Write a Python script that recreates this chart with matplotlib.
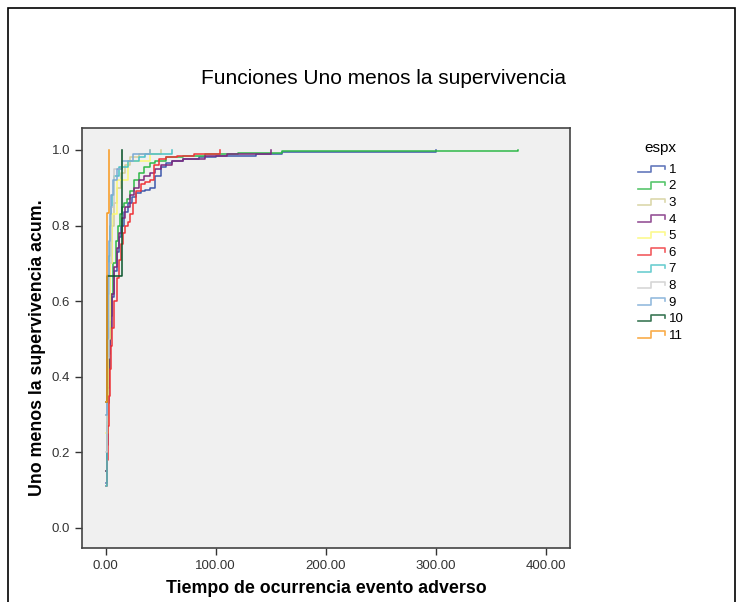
import numpy as np
import matplotlib
matplotlib.use('Agg')
import matplotlib.pyplot as plt
from matplotlib.lines import Line2D
from matplotlib.legend_handler import HandlerBase
from matplotlib.patches import Rectangle

plt.rcParams['font.family'] = ['Liberation Sans', 'DejaVu Sans']

# Datos: tiempo y 1 - supervivencia acumulada por grupo espx
grupos = ['1', '2', '3', '4', '5', '6', '7', '8', '9', '10', '11']
colores = ['#3E58AC', '#2EB848', '#D3CE97', '#7C287D', '#FBF873', '#EF3338',
           '#48C2C5', '#CCCCCC', '#7AAAD5', '#0A562C', '#F8981D']

t1 = [0, 1, 2, 3, 4, 5, 6, 8, 10, 12, 14, 17, 20, 24, 28, 32, 36, 40, 45, 50, 55, 60, 70, 85, 100, 137, 160, 300]
v1 = [0.12, 0.22, 0.33, 0.42, 0.50, 0.56, 0.61, 0.68, 0.73, 0.77, 0.80, 0.835, 0.86, 0.875, 0.885, 0.89, 0.895, 0.90, 0.93, 0.955, 0.965, 0.97, 0.975, 0.98, 0.985, 0.99, 0.995, 1.0]
t2 = [0, 1, 2, 3, 4, 5, 7, 9, 11, 13, 15, 17, 19, 22, 26, 30, 35, 40, 45, 55, 70, 90, 120, 160, 375]
v2 = [0.15, 0.28, 0.40, 0.49, 0.56, 0.62, 0.70, 0.76, 0.80, 0.83, 0.85, 0.86, 0.87, 0.89, 0.92, 0.94, 0.955, 0.965, 0.97, 0.98, 0.985, 0.99, 0.993, 0.996, 1.0]
t3 = [0, 2, 4, 6, 8, 10, 14, 18, 22, 30, 50]
v3 = [0.30, 0.55, 0.70, 0.80, 0.86, 0.90, 0.94, 0.96, 0.98, 0.99, 1.0]
t4 = [0, 1, 2, 3, 4, 6, 8, 10, 12, 15, 18, 22, 26, 30, 35, 40, 45, 50, 60, 70, 90, 110, 150]
v4 = [0.15, 0.27, 0.37, 0.46, 0.53, 0.62, 0.69, 0.74, 0.78, 0.82, 0.85, 0.88, 0.90, 0.92, 0.93, 0.94, 0.95, 0.96, 0.97, 0.975, 0.985, 0.99, 1.0]
t5 = [0, 2, 4, 6, 10, 20, 40]
v5 = [0.25, 0.50, 0.70, 0.83, 0.92, 0.97, 1.0]
t6 = [0, 1, 2, 3, 4, 5, 6, 8, 10, 12, 14, 16, 18, 20, 22, 25, 28, 32, 36, 40, 44, 48, 55, 65, 80, 104]
v6 = [0.11, 0.18, 0.27, 0.35, 0.42, 0.48, 0.53, 0.60, 0.66, 0.71, 0.75, 0.78, 0.80, 0.81, 0.83, 0.86, 0.89, 0.91, 0.915, 0.92, 0.96, 0.975, 0.98, 0.985, 0.99, 1.0]
t7 = [0, 1, 2, 3, 4, 5, 6, 8, 12, 20, 30, 36, 60]
v7 = [0.11, 0.45, 0.62, 0.72, 0.80, 0.85, 0.88, 0.93, 0.955, 0.97, 0.98, 0.99, 1.0]
t8 = [0, 1, 3, 5, 8, 15]
v8 = [0.20, 0.45, 0.70, 0.85, 0.95, 1.0]
t9 = [0, 1, 2, 3, 4, 5, 7, 10, 15, 25, 40]
v9 = [0.30, 0.50, 0.67, 0.76, 0.83, 0.88, 0.92, 0.95, 0.97, 0.99, 1.0]
t10 = [0, 1, 15]
v10 = [0.333, 0.667, 1.0]
t11 = [0, 1, 3]
v11 = [0.333, 0.833, 1.0]

tiempos = [t1, t2, t3, t4, t5, t6, t7, t8, t9, t10, t11]
valores = [v1, v2, v3, v4, v5, v6, v7, v8, v9, v10, v11]


# Icono de leyenda en forma de escalon (estilo SPSS)
class HandlerEscalon(HandlerBase):
    def create_artists(self, legend, orig_handle, xdescent, ydescent,
                       width, height, fontsize, trans):
        x0 = -xdescent
        y0 = -ydescent
        xs = [x0, x0 + 0.5 * width, x0 + 0.5 * width, x0 + width, x0 + width]
        ys = [y0 + 0.1 * height, y0 + 0.1 * height, y0 + 0.8 * height,
              y0 + 0.8 * height, y0 + 0.45 * height]
        l = Line2D(xs, ys, color=orig_handle.get_color(), lw=1.2, alpha=0.8,
                   transform=trans)
        return [l]


fig = plt.figure(figsize=(7.43, 6.02), dpi=100)
ax = fig.add_axes([0.1104, 0.0897, 0.6568, 0.6977])
ax.set_facecolor('#F0F0F0')

lineas = []
for g, c, t, v in zip(grupos, colores, tiempos, valores):
    ln, = ax.step(t, v, where='post', color=c, lw=1.1, label=g)
    lineas.append(ln)

ax.set_xlim(-21.5, 422)
ax.set_ylim(-0.053, 1.058)
ax.set_xticks([0, 100, 200, 300, 400])
ax.set_xticklabels(['0.00', '100.00', '200.00', '300.00', '400.00'])
ax.set_yticks([0, 0.2, 0.4, 0.6, 0.8, 1.0])
ax.set_yticklabels(['0.0', '0.2', '0.4', '0.6', '0.8', '1.0'])
ax.tick_params(direction='out', length=5, width=1, colors='#333333', labelsize=9.5)
for s in ax.spines.values():
    s.set_color('#444444')
    s.set_linewidth(1.2)

fig.text(0.516, 0.869, 'Funciones Uno menos la supervivencia', ha='center', va='center', fontsize=15)
fig.text(0.439, 0.023, 'Tiempo de ocurrencia evento adverso', ha='center', va='center',
         fontsize=12.8, fontweight='bold')
fig.text(0.051, 0.423, 'Uno menos la supervivencia acum.', ha='center', va='center',
         fontsize=12.8, fontweight='bold', rotation=90)

leg = fig.legend(handles=lineas, labels=grupos, title='espx',
                 handler_map={Line2D: HandlerEscalon()},
                 loc='upper left', bbox_to_anchor=(0.851, 0.774), frameon=False,
                 fontsize=9.5, title_fontsize=11, handlelength=2.1, handletextpad=0.25,
                 labelspacing=0.33, borderaxespad=0)
leg._legend_box.sep = 6

# Marco exterior
fig.patches.append(Rectangle((8 / 743, -0.05), 727 / 743, 1.05 - 8 / 602,
                             transform=fig.transFigure, fill=False,
                             edgecolor='black', lw=1.2))

fig.savefig('out.png', dpi=100)
